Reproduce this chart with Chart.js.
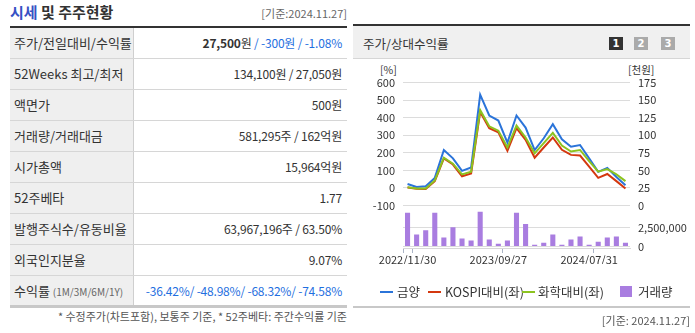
<!DOCTYPE html>
<html><head><meta charset="utf-8">
<script src="https://cdn.jsdelivr.net/npm/chart.js@4"></script>
<style>
body{margin:0;width:695px;height:333px;background:#fff;font-family:"Noto Sans CJK KR","Noto Sans",sans-serif;color:#333;position:relative;overflow:hidden}
.a{position:absolute;white-space:nowrap}
.row{position:absolute;left:10px;width:337px;height:30px;border-bottom:1px solid #d6d6d6}
.lab{position:absolute;left:0;top:0;width:124px;height:30px;background:#efefef;border-right:1px solid #cfcfcf;font-size:13px;line-height:30px;padding-left:4px;box-sizing:border-box}
.val{position:absolute;right:5px;top:0;height:30px;line-height:30px;font-size:12px;letter-spacing:-0.2px}
.blue{color:#1f6fe0}
.sm{font-size:10px;color:#666}
.btn{position:absolute;top:37px;width:14px;height:13px;color:#fff;font-size:10px;font-weight:bold;text-align:center;line-height:13px;font-family:"DejaVu Sans",sans-serif}
.leg{position:absolute;top:284px;font-size:12.5px;line-height:16px}
.ln{position:absolute;top:291px;width:13px;height:2px}
</style></head><body>

<!-- left panel -->
<div class="a" style="left:10px;top:2px;font-size:15px;font-weight:bold;line-height:20px"><span style="color:#3651c4">시세</span> 및 주주현황</div>
<div class="a" style="right:348px;top:5px;font-size:11px;color:#666;line-height:16px">[기준:2024.11.27]</div>
<div class="a" style="left:10px;top:26px;width:337px;height:2px;background:#333"></div>
<div id="rows"></div>
<div class="a" style="left:10px;top:305px;width:337px;height:3px;background:#c8c8c8"></div>
<div class="a" style="right:348px;top:309px;font-size:11px;color:#555;line-height:15px">* 수정주가(차트포함), 보통주 기준, * 52주베타: 주간수익률 기준</div>

<!-- right panel -->
<div class="a" style="left:353px;top:24px;width:337px;height:2px;background:#333"></div>
<div class="a" style="left:353px;top:26px;width:337px;height:32px;background:#f0f0f0;border-bottom:1px solid #d6d6d6"></div>
<div class="a" style="left:363px;top:35px;font-size:12.5px;line-height:18px">주가/상대수익률</div>
<div class="btn" style="left:609px;background:#333">1</div>
<div class="btn" style="left:634px;background:#aaa">2</div>
<div class="btn" style="left:661px;background:#aaa">3</div>
<div class="a" style="left:380px;top:63px;font-size:10.5px;line-height:14px">[%]</div>
<div class="a" style="left:628px;top:63px;font-size:10.5px;line-height:14px">[천원]</div>

<canvas id="c1" class="a" style="left:360px;top:68px;width:320px;height:152px" width="320" height="152"></canvas>
<canvas id="c2" class="a" style="left:360px;top:191px;width:330px;height:70px" width="330" height="70"></canvas>
<canvas id="c3" class="a" style="left:360px;top:232px;width:330px;height:32px" width="330" height="32"></canvas>

<div class="ln" style="left:380px;background:#2b74d9"></div>
<div class="leg" style="left:397px">금양</div>
<div class="ln" style="left:428px;background:#d4380f"></div>
<div class="leg" style="left:445px">KOSPI대비(좌)</div>
<div class="ln" style="left:522px;background:#8cc320"></div>
<div class="leg" style="left:538px">화학대비(좌)</div>
<div class="a" style="left:620px;top:286px;width:12px;height:11px;background:#a97de0"></div>
<div class="leg" style="left:638px">거래량</div>

<div class="a" style="left:353px;top:306px;width:337px;height:2px;background:#c8c8c8"></div>
<div class="a" style="right:5px;top:313px;font-size:11px;color:#555;line-height:15px">[기준: 2024.11.27]</div>

<script>
// ---- table data ----
const rowLabels = ["주가/전일대비/수익률","52Weeks 최고/최저","액면가","거래량/거래대금","시가총액","52주베타","발행주식수/유동비율","외국인지분율","수익률"];
const rowValues = [
  '<b>27,500</b>원 <span class="blue">/ -300원 / -1.08%</span>',
  '134,100원 / 27,050원',
  '500원',
  '581,295주 / 162억원',
  '15,964억원',
  '1.77',
  '63,967,196주 / 63.50%',
  '9.07%',
  '<span class="blue">-36.42%/ -48.98%/ -68.32%/ -74.58%</span>'
];
const rowsEl = document.getElementById('rows');
rowLabels.forEach((l,i)=>{
  const r = document.createElement('div');
  r.className='row'; r.style.top=(28+31*i)+'px';
  if(i===8) r.style.borderBottom='none';
  r.innerHTML='<div class="lab">'+l+(i===8?' <span class="sm">(1M/3M/6M/1Y)</span>':'')+'</div><div class="val">'+rowValues[i]+'</div>';
  rowsEl.appendChild(r);
});

// ---- chart data ----
const categories = ["2022/11/30","2022/12/28","2023/01/25","2023/02/22","2023/03/29","2023/04/26","2023/05/31","2023/06/28","2023/07/26","2023/08/30","2023/09/27","2023/10/25","2023/11/29","2023/12/27","2024/01/31","2024/02/28","2024/03/27","2024/04/24","2024/05/29","2024/06/26","2024/07/31","2024/08/28","2024/09/25","2024/10/30","2024/11/27"];
const shownLabels = ["2022/11/30","2023/09/27","2024/07/31"];
const priceK = [30.4,26.3,27.3,39.2,78.9,67,49.2,54,157.8,128.1,120.9,89.4,128.1,110.9,78.9,95.7,115.8,94.3,83.6,86.1,67,47.8,53.5,40.6,28.7];
const kospiRel = [2,-5,-6,38,168,133,66,82,433,340,316,211,341,274,172,230,287,217,188,184,121,57,79,38.5,-3.5];
const chemRel = [4,-3,-3,42,172,138,77,92,443,351,326,230,355,287,197,255,313,241,207,216,153,92,107,77,38.5];
const volume = [4550000,1620000,2170000,4550000,1200000,2590000,1060000,780000,4680000,920000,360000,780000,4550000,3010000,220000,500000,1620000,220000,920000,1340000,220000,640000,1200000,1340000,500000];
const pctTicks = [-100,0,100,200,300,400,500,600];
const priceTicks = [0,25,50,75,100,125,150,175];
const volTicks = [0,2500000];
const volLabels = ["0","2,500,000",""];

Chart.defaults.font.family = '"Noto Sans CJK KR","Noto Sans",sans-serif';
Chart.defaults.font.size = 11;
Chart.defaults.color = '#333';
Chart.defaults.animation = false;

const LEFT_W = 43, RIGHT_W = 50;

new Chart(document.getElementById('c1'), {
  type:'line',
  data:{labels:categories, datasets:[
    {label:'금양', data:priceK, yAxisID:'y1', borderColor:'#2b74d9', borderWidth:2, pointRadius:0, tension:0, order:3},
    {label:'KOSPI대비(좌)', data:kospiRel, yAxisID:'y', borderColor:'#d4380f', borderWidth:2, pointRadius:0, tension:0, order:2},
    {label:'화학대비(좌)', data:chemRel, yAxisID:'y', borderColor:'#8cc320', borderWidth:2, pointRadius:0, tension:0, order:1}
  ]},
  options:{
    responsive:false, maintainAspectRatio:false,
    layout:{padding:0},
    plugins:{legend:{display:false},tooltip:{enabled:false}},
    scales:{
      x:{display:false, offset:true},
      y:{position:'left', min:-100, max:600,
        afterBuildTicks:s=>{s.ticks=pctTicks.map(v=>({value:v}));},
        afterFit:s=>{s.width=LEFT_W;},
        grid:{color:'#dcdcdc', drawTicks:false}, border:{display:false},
        ticks:{padding:8, autoSkip:false}},
      y1:{position:'right', min:0, max:175,
        afterBuildTicks:s=>{s.ticks=priceTicks.map(v=>({value:v}));},
        afterFit:s=>{s.width=RIGHT_W;},
        grid:{drawOnChartArea:false, drawTicks:false}, border:{display:false},
        ticks:{padding:8, autoSkip:false}}
    }
  }
});

// volume bars
new Chart(document.getElementById('c2'), {
  type:'bar',
  data:{labels:categories, datasets:[
    {label:'거래량', data:volume, yAxisID:'yv', backgroundColor:'#a97de0', barPercentage:0.56, categoryPercentage:1}
  ]},
  options:{
    responsive:false, maintainAspectRatio:false,
    layout:{padding:{top:0,bottom:0,left:LEFT_W,right:0}},
    plugins:{legend:{display:false},tooltip:{enabled:false}},
    scales:{
      x:{display:false, offset:true},
      yv:{position:'right', min:0, max:5500000,
        afterBuildTicks:s=>{s.ticks=volTicks.concat([5500000]).map(v=>({value:v}));},
        afterFit:s=>{s.width=RIGHT_W+10;},
        grid:{color:'#dcdcdc', drawTicks:false}, border:{display:false},
        ticks:{padding:8, autoSkip:false, callback:(v,i)=>volLabels[i]}}
    }
  }
});

// shared category (date) axis
new Chart(document.getElementById('c3'), {
  type:'bar',
  data:{labels:categories, datasets:[{label:'', data:[]}]},
  options:{
    responsive:false, maintainAspectRatio:false,
    layout:{padding:{top:0,bottom:0,left:LEFT_W,right:RIGHT_W+10}},
    plugins:{legend:{display:false},tooltip:{enabled:false}},
    scales:{
      y:{display:false},
      x:{offset:true,
        grid:{offset:true, drawOnChartArea:false, drawTicks:true, tickLength:5,
          color:ctx=>{const i=ctx.index; if(i===undefined) return 'rgba(0,0,0,0)';
            return (i===0 || shownLabels.includes(categories[i-1])) ? '#aab4c6' : 'rgba(0,0,0,0)';}},
        border:{color:'#d8d8d8'},
        ticks:{autoSkip:false, maxRotation:0, padding:0,
          callback:(v,i)=>shownLabels.includes(categories[i]) ? categories[i] : ''}}
    }
  }
});
</script>
</body></html>
